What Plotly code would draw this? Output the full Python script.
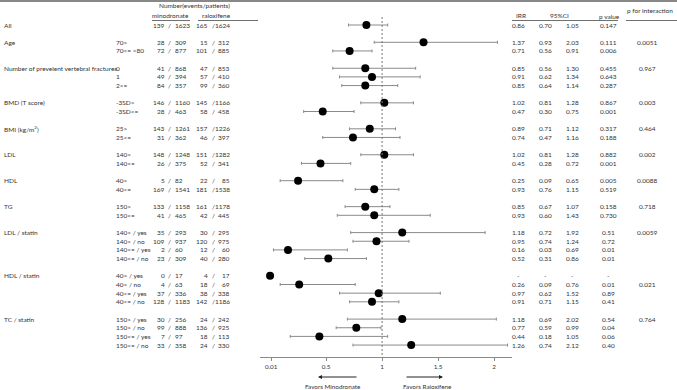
import plotly.graph_objects as go

W, H = 677, 390

# ---------------- data ----------------
groups = ["All", "Age", "Number of prevelent vertebral fractures", "BMD (T score)",
          "BMI (kg/m<sup>2</sup>)", "LDL", "HDL", "TG", "LDL / statin", "HDL / statin", "TC / statin"]
subgroups = [
    [""],
    ["70>", "70<= <80"],
    ["0", "1", "2<="],
    ["-3SD>", "-3SD<="],
    ["25>", "25<="],
    ["140>", "140<="],
    ["40>", "40<="],
    ["150>", "150<="],
    ["140> / yes", "140> / no", "140<= / yes", "140<= / no"],
    ["40> / yes", "40> / no", "40<= / yes", "40<= / no"],
    ["150> / yes", "150> / no", "150<= / yes", "150<= / no"],
]
mino_events = [139, 28, 72, 41, 49, 84, 146, 28, 143, 31, 148, 26, 5, 169, 133, 41,
               35, 109, 2, 23, 0, 4, 37, 128, 30, 99, 7, 33]
mino_patients = [1623, 309, 877, 868, 394, 357, 1160, 463, 1261, 362, 1248, 375, 82, 1541, 1158, 465,
                 293, 937, 60, 309, 17, 63, 336, 1183, 256, 888, 97, 358]
ralo_events = [165, 15, 101, 47, 57, 99, 145, 58, 157, 46, 151, 52, 22, 181, 161, 42,
               30, 120, 12, 40, 4, 18, 38, 142, 24, 136, 18, 24]
ralo_patients = [1624, 312, 885, 853, 410, 360, 1166, 458, 1226, 397, 1282, 341, 85, 1538, 1178, 445,
                 295, 975, 60, 280, 17, 69, 338, 1186, 242, 925, 113, 330]
irr = [0.86, 1.37, 0.71, 0.85, 0.91, 0.85, 1.02, 0.47, 0.89, 0.74, 1.02, 0.45, 0.25, 0.93, 0.85, 0.93,
       1.18, 0.95, 0.16, 0.52, 0.0, 0.26, 0.97, 0.91, 1.18, 0.77, 0.44, 1.26]
ci_low = [0.70, 0.93, 0.56, 0.56, 0.62, 0.64, 0.81, 0.30, 0.71, 0.47, 0.81, 0.28, 0.09, 0.76, 0.67, 0.60,
          0.72, 0.74, 0.03, 0.31, None, 0.09, 0.62, 0.71, 0.69, 0.59, 0.18, 0.74]
ci_high = [1.05, 2.03, 0.91, 1.30, 1.34, 1.14, 1.28, 0.75, 1.12, 1.16, 1.28, 0.72, 0.65, 1.15, 1.07, 1.43,
           1.92, 1.24, 0.69, 0.86, None, 0.76, 1.52, 1.15, 2.02, 0.99, 1.05, 2.12]
p_value = ["0.147", "0.111", "0.006", "0.455", "0.643", "0.287", "0.867", "0.001", "0.317", "0.188",
           "0.882", "0.001", "0.005", "0.519", "0.158", "0.730", "0.51", "0.72", "0.01", "0.01",
           "-", "0.01", "0.89", "0.41", "0.54", "0.04", "0.06", "0.40"]
# p for interaction: (group index, row within group, text)
p_interaction = [(1, 0, "0.0051"), (2, 0, "0.967"), (3, 0, "0.003"), (4, 0, "0.464"), (5, 0, "0.002"),
                 (6, 0, "0.0088"), (7, 0, "0.718"), (8, 0, "0.0059"), (9, 1, "0.021"), (10, 0, "0.764")]
tick_vals = [0.01, 0.5, 1, 1.5, 2]
tick_text = ["0.01", "0.5", "1", "1.5", "2"]

# ---------------- layout helpers ----------------
FONT = "Lato"
TC = "#333333"
FS = 6.5

def px(x):
    return x / W

def py(y):
    return 1 - y / H

ROW0, DY = 25.0, 8.65
y_top_px, y_bot_px = 0.0, 357.0
y_range = [(y_bot_px - ROW0) / DY, (y_top_px - ROW0) / DY]

row_pos = []
group_first = []
pos = 0
for gi, subs in enumerate(subgroups):
    group_first.append(pos)
    for _ in subs:
        row_pos.append(pos)
        pos += 1
    pos += 1

fig = go.Figure()

err_plus = [(h - v) if h is not None else 0 for v, h in zip(irr, ci_high)]
err_minus = [(v - l) if l is not None else 0 for v, l in zip(irr, ci_low)]

fig.add_trace(go.Scatter(
    x=irr, y=row_pos, mode="markers",
    marker=dict(color="black", size=8),
    error_x=dict(type="data", array=err_plus, arrayminus=err_minus, symmetric=False,
                 color="#8a8a8a", thickness=1, width=1.5),
    showlegend=False, hoverinfo="skip",
))

annotations = []
shapes = []

def txt(x, y, s, xanchor="center", yref="y", size=FS):
    annotations.append(dict(x=x, y=y, xref="paper", yref=yref, text=s, showarrow=False,
                            xanchor=xanchor, yanchor="middle",
                            font=dict(family=FONT, size=size, color=TC)))

r = 0
for gi, subs in enumerate(subgroups):
    txt(px(2), group_first[gi], groups[gi], "left")
    for si, s in enumerate(subs):
        yy = row_pos[r]
        if s:
            txt(px(114), yy, s, "left")
        # minodronate events / patients
        txt(px(166.5), yy, str(mino_events[r]), "right")
        txt(px(169.5), yy, "/")
        txt(px(172.5), yy, str(mino_patients[r]), "left")
        # raloxifene
        txt(px(209.5), yy, str(ralo_events[r]), "right")
        txt(px(213), yy, "/")
        txt(px(232), yy, str(ralo_patients[r]), "right")
        # stats
        if ci_low[r] is None:
            vals = ["-", "-", "-", "-"]
        else:
            vals = [f"{irr[r]:.2f}", f"{ci_low[r]:.2f}", f"{ci_high[r]:.2f}", p_value[r]]
        for cx, v in zip([518, 545, 572, 608], vals):
            txt(px(cx), yy, v)
        r += 1

for gi, si, s in p_interaction:
    txt(px(647), group_first[gi] + si, s)

# headers
txt(px(194), py(6), "Number(events/patients)", yref="paper")
txt(px(170), py(16), "minodronate", yref="paper")
txt(px(216), py(16), "raloxifene", yref="paper")
txt(px(521), py(16), "IRR", yref="paper")
txt(px(559), py(16), "95%CI", yref="paper")
txt(px(609), py(17), "p value", yref="paper")
txt(px(650), py(10), "p for interaction", yref="paper")

def hline(x0, x1, y, color="#707070", width=1):
    shapes.append(dict(type="line", xref="paper", yref="paper", x0=px(x0), x1=px(x1),
                       y0=py(y), y1=py(y), line=dict(color=color, width=width)))

hline(0, 677, 1, "#606060", 1.5)
hline(152, 190, 20.5)
hline(198, 258, 20.5)
hline(512, 618, 20.5)
hline(626, 677, 20.5)

# dotted reference line at 1
shapes.append(dict(type="line", xref="x", yref="paper", x0=1, x1=1, y0=py(17), y1=py(356),
                   line=dict(color="#777777", width=1, dash="2px,2px")))

# arrows
annotations.append(dict(x=px(318), y=py(377), xref="paper", yref="paper", ax=40, ay=0,
                        axref="pixel", ayref="pixel", text="", showarrow=True,
                        arrowhead=2, arrowsize=0.8, arrowwidth=1, arrowcolor="#222"))
annotations.append(dict(x=px(443), y=py(377), xref="paper", yref="paper", ax=-38, ay=0,
                        axref="pixel", ayref="pixel", text="", showarrow=True,
                        arrowhead=2, arrowsize=0.8, arrowwidth=1, arrowcolor="#222"))
txt(px(333), py(386.5), "Favors Minodronate", yref="paper", size=6.3)
txt(px(427), py(386.5), "Favors Raloxifene", yref="paper", size=6.3)

fig.update_layout(
    width=W, height=H, margin=dict(l=0, r=0, t=0, b=0),
    paper_bgcolor="white", plot_bgcolor="white",
    annotations=annotations, shapes=shapes,
    xaxis=dict(domain=[px(260), px(512)], range=[-0.09, 2.16], tickvals=tick_vals, ticktext=tick_text,
               showline=True, linecolor="#8a8a8a", linewidth=1, ticks="outside", ticklen=3,
               tickcolor="#8a8a8a", showgrid=False, zeroline=False,
               tickfont=dict(family=FONT, size=6.3, color=TC)),
    yaxis=dict(domain=[py(y_bot_px), 1], range=y_range, visible=False, showgrid=False, zeroline=False),
    font=dict(family=FONT, size=FS, color=TC),
)

fig.write_html("out.html", config={"displayModeBar": False},
               post_script="document.body.style.margin='0';document.body.style.padding='0';")
